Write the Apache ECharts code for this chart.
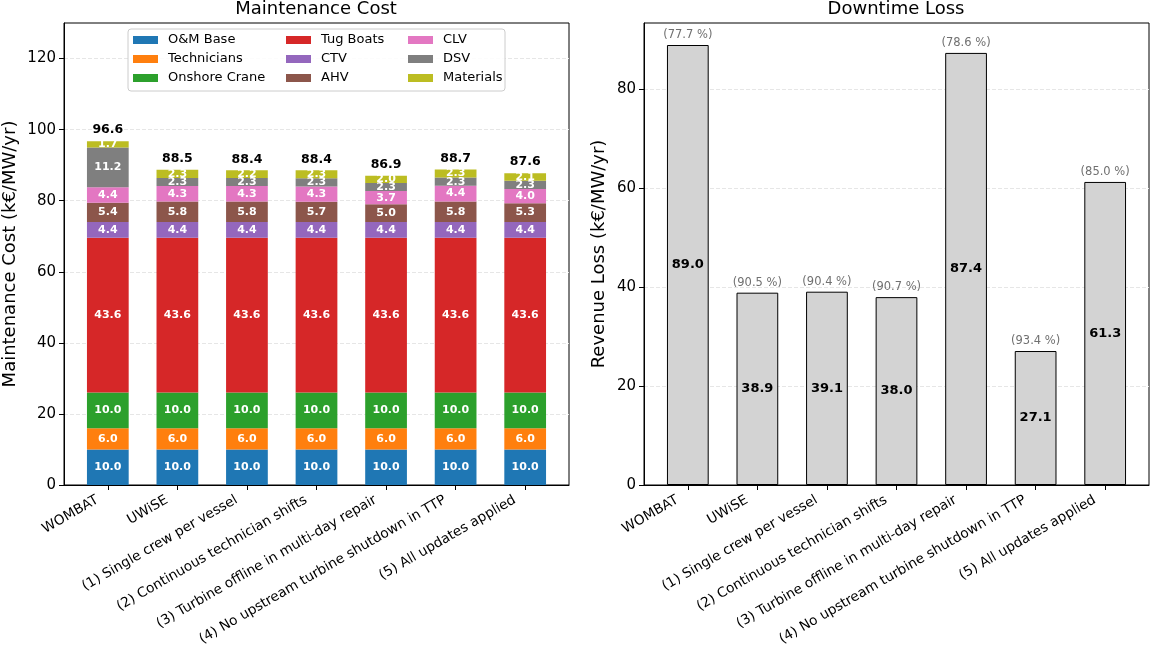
<!DOCTYPE html>
<html>
<head>
<meta charset="utf-8">
<script src="https://cdn.jsdelivr.net/npm/echarts@6/dist/echarts.min.js"></script>
<style>
  html, body { margin: 0; padding: 0; background: #fff; }
  #chart { width: 1151px; height: 648px; }
</style>
</head>
<body>
<div id="chart"></div>
<script>
'use strict';

// categories (scenarios)
var categories = ['WOMBAT', 'UWiSE', '(1) Single crew per vessel', '(2) Continuous technician shifts',
    '(3) Turbine offline in multi-day repair', '(4) No upstream turbine shutdown in TTP', '(5) All updates applied'];

// maintenance cost components (k€/MW/yr)
var omBase       = [10.0, 10.0, 10.0, 10.0, 10.0, 10.0, 10.0];
var technicians  = [6.0, 6.0, 6.0, 6.0, 6.0, 6.0, 6.0];
var onshoreCrane = [10.0, 10.0, 10.0, 10.0, 10.0, 10.0, 10.0];
var tugBoats     = [43.6, 43.6, 43.6, 43.6, 43.6, 43.6, 43.6];
var ctv          = [4.4, 4.4, 4.4, 4.4, 4.4, 4.4, 4.4];
var ahv          = [5.4, 5.8, 5.8, 5.7, 5.0, 5.8, 5.3];
var clv          = [4.4, 4.3, 4.3, 4.3, 3.7, 4.4, 4.0];
var dsv          = [11.2, 2.3, 2.3, 2.3, 2.3, 2.3, 2.3];
var materials    = [1.7, 2.3, 2.2, 2.3, 2.0, 2.3, 2.1];
var costTotals   = [96.6, 88.5, 88.4, 88.4, 86.9, 88.7, 87.6];

// downtime loss
var revenueLoss  = [89.0, 38.9, 39.1, 38.0, 87.4, 27.1, 61.3];
var availability = [77.7, 90.5, 90.4, 90.7, 78.6, 93.4, 85.0];

// tick labels
var costTicks = [0, 20, 40, 60, 80, 100, 120];
var lossTicks = [0, 20, 40, 60, 80];
var catTicks  = [0, 1, 2, 3, 4, 5, 6];

var components = [
    ['O&M Base', omBase, '#1f77b4'],
    ['Technicians', technicians, '#ff7f0e'],
    ['Onshore Crane', onshoreCrane, '#2ca02c'],
    ['Tug Boats', tugBoats, '#d62728'],
    ['CTV', ctv, '#9467bd'],
    ['AHV', ahv, '#8c564b'],
    ['CLV', clv, '#e377c2'],
    ['DSV', dsv, '#7f7f7f'],
    ['Materials', materials, '#bcbd22']
];

var FONT = 'DejaVu Sans';

// value first, position second -> first value dimension is y (so stacking works on a value x axis)
function pairs(arr) {
    return arr.map(function (v, i) { return [v, i]; });
}
var ENC = {x: 1, y: 0};

function xAxisFor(gridIndex) {
    return {
        type: 'value',
        gridIndex: gridIndex,
        min: -0.63,
        max: 6.63,
        splitLine: {show: false},
        axisLine: {show: true, onZero: false, lineStyle: {color: '#000', width: 1}},
        axisTick: {show: true, customValues: catTicks, length: 5, lineStyle: {color: '#000'}},
        axisLabel: {
            customValues: catTicks,
            rotate: 30,
            margin: 8,
            padding: [0, 12, 0, 0],
            fontFamily: FONT,
            fontSize: 13.7,
            color: '#000',
            formatter: function (v) { return categories[Math.round(v)]; }
        }
    };
}

function yAxisFor(gridIndex, max, ticks, name, gap) {
    return {
        type: 'value',
        gridIndex: gridIndex,
        min: 0,
        max: max,
        name: name,
        nameLocation: 'middle',
        nameGap: gap,
        nameTextStyle: {fontFamily: FONT, fontSize: 18, color: '#000'},
        axisLine: {show: true, onZero: false, lineStyle: {color: '#000', width: 1}},
        axisTick: {show: true, customValues: ticks, length: 5, lineStyle: {color: '#000'}},
        axisLabel: {customValues: ticks, margin: 8, fontFamily: FONT, fontSize: 15, color: '#000'},
        splitLine: {show: true, lineStyle: {color: '#e6e6e6', type: 'dashed', width: 1}}
    };
}

var series = components.map(function (c) {
    return {
        name: c[0],
        type: 'bar',
        stack: 'cost',
        xAxisIndex: 0,
        yAxisIndex: 0,
        encode: ENC,
        barWidth: '60%',
        barGap: '-100%',
        data: pairs(c[1]),
        itemStyle: {color: c[2]},
        label: {
            show: true,
            position: 'inside',
            color: '#fff',
            fontFamily: FONT,
            fontWeight: 'bold',
            fontSize: 11,
            formatter: function (p) { return p.value[0].toFixed(1); }
        }
    };
});

// total above each stack
series.push({
    name: 'Total',
    type: 'bar',
    xAxisIndex: 0,
    yAxisIndex: 0,
    encode: ENC,
    barWidth: '60%',
    barGap: '-100%',
    silent: true,
    data: pairs(costTotals),
    itemStyle: {color: 'rgba(0,0,0,0)'},
    label: {
        show: true,
        position: 'top',
        distance: 5,
        color: '#000',
        fontFamily: FONT,
        fontWeight: 'bold',
        fontSize: 12.5,
        formatter: function (p) { return p.value[0].toFixed(1); }
    },
    z: 1
});

// downtime loss bars
series.push({
    name: 'Revenue Loss',
    type: 'bar',
    xAxisIndex: 1,
    yAxisIndex: 1,
    encode: ENC,
    barWidth: '60%',
    barGap: '-100%',
    data: pairs(revenueLoss),
    itemStyle: {color: '#d3d3d3', borderColor: '#000', borderWidth: 1},
    label: {
        show: true,
        position: 'inside',
        color: '#000',
        fontFamily: FONT,
        fontWeight: 'bold',
        fontSize: 13,
        formatter: function (p) { return p.value[0].toFixed(1); }
    }
});
series.push({
    name: 'Availability',
    type: 'bar',
    xAxisIndex: 1,
    yAxisIndex: 1,
    encode: ENC,
    barWidth: '60%',
    barGap: '-100%',
    silent: true,
    data: pairs(revenueLoss),
    itemStyle: {color: 'rgba(0,0,0,0)'},
    label: {
        show: true,
        position: 'top',
        distance: 4,
        color: '#707070',
        fontFamily: FONT,
        fontSize: 11.5,
        formatter: function (p) { return '(' + availability[p.dataIndex].toFixed(1) + ' %)'; }
    }
});

function legendCol(left, names) {
    return {
        orient: 'vertical',
        left: left,
        top: 33,
        padding: 0,
        itemWidth: 25,
        itemHeight: 8,
        itemGap: 5,
        icon: 'rect',
        selectedMode: false,
        data: names,
        textStyle: {fontFamily: FONT, fontSize: 13, color: '#000', lineHeight: 14, padding: [0, 0, 0, 5]},
        z: 5
    };
}

var myChart = echarts.init(document.getElementById('chart'));

var option = {
    animation: false,
    title: [
        {text: 'Maintenance Cost', left: 316, top: 0, padding: 0, textAlign: 'center',
            textStyle: {fontFamily: FONT, fontSize: 18, fontWeight: 'normal', color: '#000'}},
        {text: 'Downtime Loss', left: 896, top: 0, padding: 0, textAlign: 'center',
            textStyle: {fontFamily: FONT, fontSize: 18, fontWeight: 'normal', color: '#000'}}
    ],
    grid: [
        {left: 64, right: 582, top: 23, bottom: 163, outerBoundsMode: 'none',
            show: true, borderColor: '#000', borderWidth: 1},
        {left: 644, right: 2, top: 23, bottom: 163, outerBoundsMode: 'none',
            show: true, borderColor: '#000', borderWidth: 1}
    ],
    legend: [
        legendCol(133, ['O&M Base', 'Technicians', 'Onshore Crane']),
        legendCol(286, ['Tug Boats', 'CTV', 'AHV']),
        legendCol(408, ['CLV', 'DSV', 'Materials'])
    ],
    graphic: [{
        type: 'rect',
        shape: {x: 128, y: 29, width: 377, height: 62, r: 3},
        style: {fill: 'rgba(255,255,255,0.85)', stroke: '#cccccc', lineWidth: 1},
        z: 4,
        silent: true
    }],
    xAxis: [xAxisFor(0), xAxisFor(1)],
    yAxis: [
        yAxisFor(0, 130, costTicks, 'Maintenance Cost (k€/MW/yr)', 45),
        yAxisFor(1, 93.45, lossTicks, 'Revenue Loss (k€/MW/yr)', 36)
    ],
    series: series
};

myChart.setOption(option);

window.onresize = function () {
    myChart.resize();
};
</script>
</body>
</html>
